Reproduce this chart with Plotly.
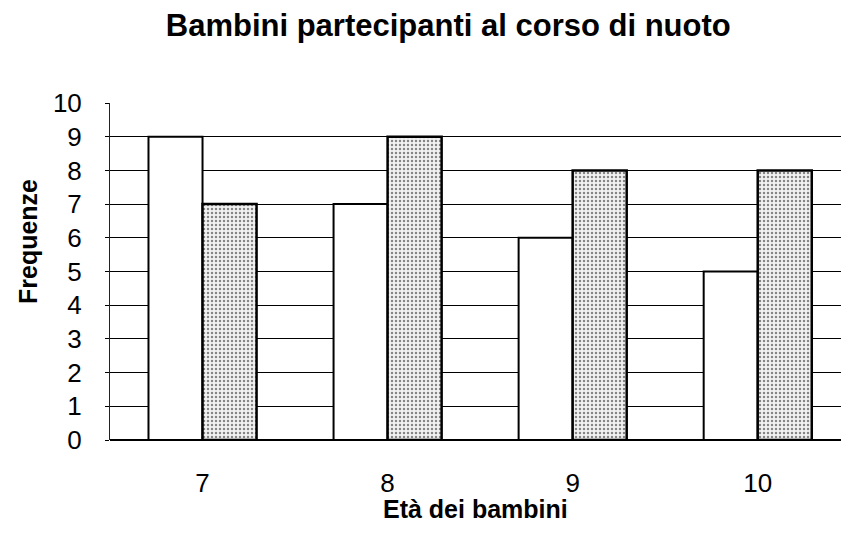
import plotly.graph_objects as go

categories = ["7", "8", "9", "10"]
serie_bianca = [9, 7, 6, 5]
serie_puntinata = [7, 9, 8, 8]
y_ticks = list(range(0, 11))

FONT = "Liberation Sans, Arial, sans-serif"

fig = go.Figure()
fig.add_trace(go.Bar(
    x=categories, y=serie_bianca, name="Serie 1",
    marker=dict(color="white", line=dict(color="black", width=2)),
))
fig.add_trace(go.Bar(
    x=categories, y=serie_puntinata, name="Serie 2",
    marker=dict(color="white", line=dict(color="black", width=2.5),
                pattern=dict(shape=".", fgcolor="#1a1a1a", bgcolor="#f2f2f2",
                             size=4, solidity=0.3)),
))

fig.update_layout(
    width=841, height=546,
    margin=dict(l=110, r=0, t=103, b=106, autoexpand=False),
    paper_bgcolor="white", plot_bgcolor="white",
    showlegend=False,
    barmode="group", bargap=0.416, bargroupgap=0,
    font=dict(family=FONT, color="black"),
    title=dict(text="<b>Bambini partecipanti al corso di nuoto</b>",
               xref="container", yref="container",
               x=0.533, xanchor="center", y=0.954, yanchor="middle",
               font=dict(size=31, family=FONT, color="black")),
    xaxis=dict(
        range=[-0.5, 3.45], showgrid=False, showline=False, ticks="",
        tickfont=dict(size=26), ticklabelstandoff=25,
    ),
    yaxis=dict(
        range=[0, 10], tickvals=y_ticks, showgrid=True, gridcolor="black",
        gridwidth=1.3, zeroline=True, zerolinecolor="black", zerolinewidth=2,
        showline=True, linecolor="#222222", linewidth=1,
        ticks="outside", ticklen=4, tickcolor="black",
        tickfont=dict(size=26), ticklabelstandoff=18,
    ),
    annotations=[
        dict(text="<b>Età dei bambini</b>", xref="paper", yref="paper",
             x=0.5, y=0, xanchor="center", yanchor="middle", yshift=-69,
             showarrow=False, font=dict(size=25)),
        dict(text="<b>Frequenze</b>", xref="paper", yref="paper",
             x=0, y=0.5875, xanchor="center", yanchor="middle", xshift=-82,
             textangle=-90, showarrow=False, font=dict(size=25)),
    ],
)

fig.write_html(
    "out.html",
    config={"displayModeBar": False},
    post_script="document.body.style.margin='0';document.body.style.overflow='hidden';",
)
